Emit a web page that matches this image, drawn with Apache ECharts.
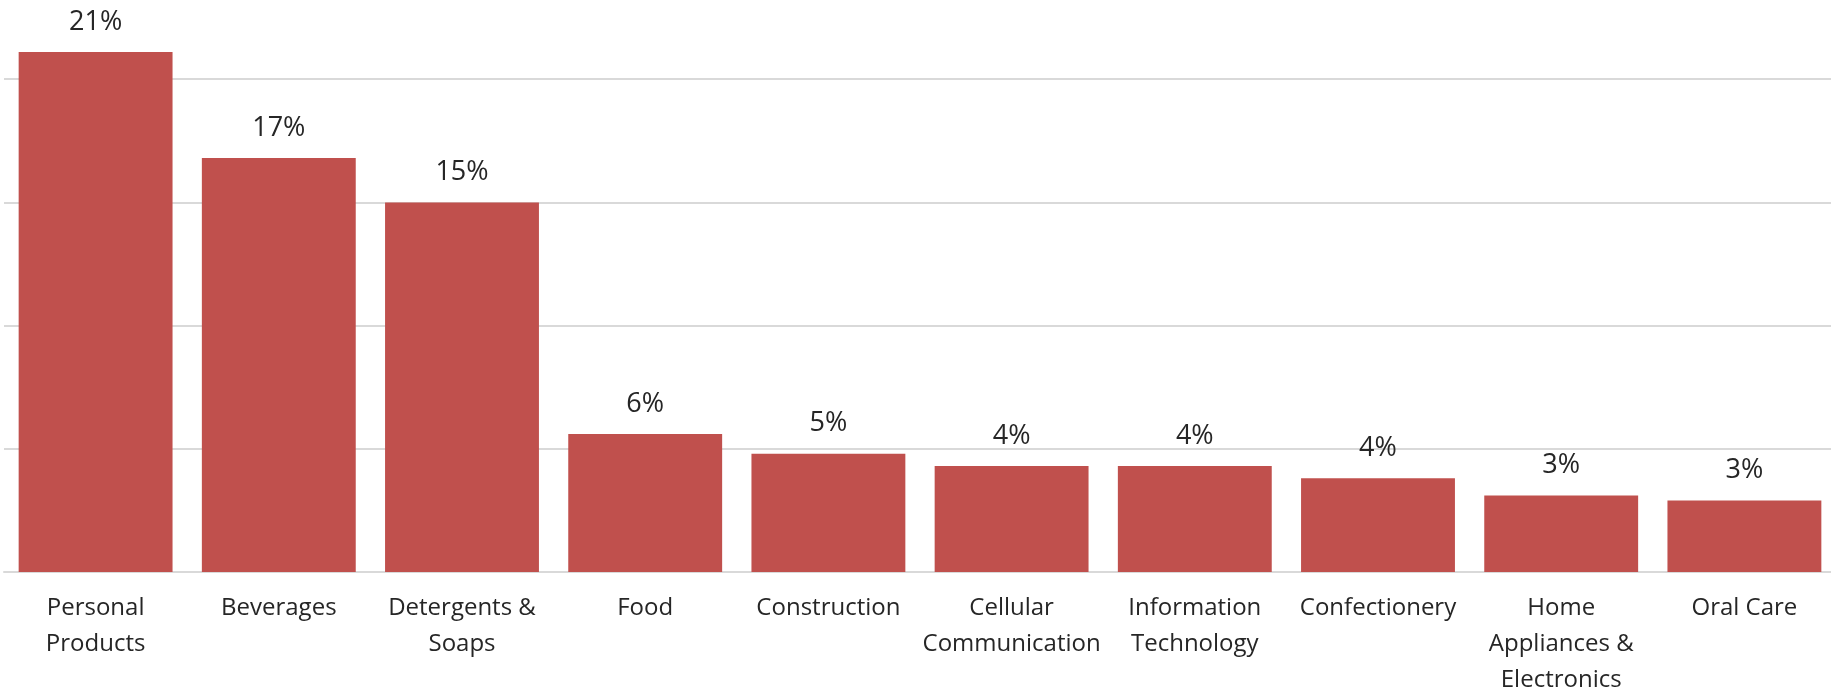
<!DOCTYPE html>
<html>
<head>
<meta charset="utf-8">
<script src="https://cdn.jsdelivr.net/npm/echarts@6/dist/echarts.min.js"></script>
<style>
  html, body { margin: 0; padding: 0; background: #ffffff; overflow: hidden; }
  #chart { width: 1836px; height: 742px; margin-top: -44px; }
</style>
</head>
<body>
<div id="chart"></div>
<script>
const categories = [
  "Personal\nProducts",
  "Beverages",
  "Detergents &\nSoaps",
  "Food",
  "Construction",
  "Cellular\nCommunication",
  "Information\nTechnology",
  "Confectionery",
  "Home\nAppliances &\nElectronics",
  "Oral Care"
];
const shareValues = [21.1, 16.8, 15.0, 5.6, 4.8, 4.3, 4.3, 3.8, 3.1, 2.9];
const yTicks = [0, 5, 10, 15, 20, 25];

const chart = echarts.init(document.getElementById('chart'), null, { renderer: 'canvas' });
chart.setOption({
  animation: false,
  backgroundColor: '#ffffff',
  grid: { left: 4, right: 0, top: 0, bottom: 119, containLabel: false },
  xAxis: {
    type: 'category',
    data: categories,
    axisLine: { show: true, lineStyle: { color: '#D9D9D9', width: 2 } },
    axisTick: { show: false },
    axisLabel: {
      interval: 0,
      margin: 18,
      color: '#262626',
      fontFamily: 'Open Sans',
      fontSize: 24,
      lineHeight: 36
    }
  },
  yAxis: {
    type: 'value',
    min: yTicks[0],
    max: yTicks[yTicks.length - 1],
    interval: 5,
    axisLine: { show: false },
    axisTick: { show: false },
    axisLabel: { show: false },
    splitLine: { show: true, lineStyle: { color: '#D9D9D9', width: 2 } }
  },
  series: [{
    type: 'bar',
    data: shareValues,
    barCategoryGap: '16%',
    itemStyle: { color: '#C0504D' },
    label: {
      show: true,
      position: 'top',
      distance: 15,
      color: '#262626',
      fontFamily: 'Open Sans',
      fontSize: 27,
      lineHeight: 30,
      formatter: p => Math.round(p.value) + '%'
    }
  }]
});
</script>
</body>
</html>
